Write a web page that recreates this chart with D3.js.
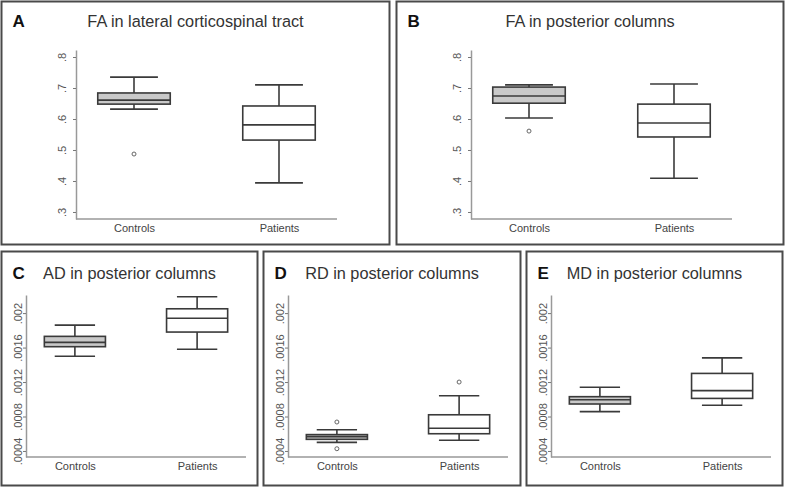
<!DOCTYPE html>
<html>
<head>
<meta charset="utf-8">
<script src="https://cdn.jsdelivr.net/npm/d3@7"></script>
<style>
  body { margin: 0; background: #fff; }
  svg { display: block; font-family: "Liberation Sans", Arial, sans-serif; }
</style>
</head>
<body>
<svg id="chart"></svg>
<script>
// categories and tick labels
var groups = ["Controls", "Patients"]
var letters = ["A", "B", "C", "D", "E"]
var titles = [
  "FA in lateral corticospinal tract",
  "FA in posterior columns",
  "AD in posterior columns",
  "RD in posterior columns",
  "MD in posterior columns"
]
var faTicks = [0.3, 0.4, 0.5, 0.6, 0.7, 0.8]
var dTicks = [0.0004, 0.0008, 0.0012, 0.0016, 0.002]
var faRange = [0.2774, 0.8226]
var dRange = [0.00033, 0.00221]

// box stats per group: [lower whisker, q1, median, q3, upper whisker]
var faCstBox = [[0.632, 0.648, 0.661, 0.684, 0.735], [0.394, 0.532, 0.581, 0.642, 0.710]]
var faCstOut = [[0.487], []]
var faPcBox = [[0.603, 0.651, 0.674, 0.703, 0.710], [0.409, 0.542, 0.587, 0.648, 0.713]]
var faPcOut = [[0.561], []]
var adPcBox = [[0.00150, 0.00161, 0.00166, 0.00173, 0.00186], [0.00158, 0.00178, 0.00194, 0.00205, 0.00219]]
var adPcOut = [[], []]
var rdPcBox = [[0.000500, 0.000535, 0.000566, 0.000590, 0.000647], [0.000524, 0.000600, 0.000663, 0.000820, 0.00104]]
var rdPcOut = [[0.000736, 0.000426], [0.00120]]
var mdPcBox = [[0.000856, 0.000945, 0.000995, 0.00103, 0.00114], [0.00093, 0.00101, 0.00110, 0.00130, 0.00148]]
var mdPcOut = [[], []]

var boxes = [faCstBox, faPcBox, adPcBox, rdPcBox, mdPcBox]
var outliers = [faCstOut, faPcOut, adPcOut, rdPcOut, mdPcOut]

// layout of the five panels (frame + plot area)
var panels = [
  { fx: 1.5, fy: 1.5, fw: 388, fh: 243, left: 76, right: 337, top: 50, bottom: 219, ty: 27, ticks: faTicks, dom: faRange, fmt: d3.format(".1f"), lab: 10 },
  { fx: 396.5, fy: 1.5, fw: 387, fh: 243, left: 471, right: 732, top: 50, bottom: 219, ty: 27, ticks: faTicks, dom: faRange, fmt: d3.format(".1f"), lab: 10 },
  { fx: 1.5, fy: 251.5, fw: 256, fh: 234, left: 26, right: 246, top: 295, bottom: 457, ty: 279, ticks: dTicks, dom: dRange, fmt: d3.format(".4~f"), lab: 4 },
  { fx: 263.5, fy: 251.5, fw: 257, fh: 234, left: 288, right: 508, top: 295, bottom: 457, ty: 279, ticks: dTicks, dom: dRange, fmt: d3.format(".4~f"), lab: 4 },
  { fx: 526.5, fy: 251.5, fw: 256, fh: 234, left: 551, right: 771, top: 295, bottom: 457, ty: 279, ticks: dTicks, dom: dRange, fmt: d3.format(".4~f"), lab: 4 }
]

var width = 787,
  height = 488

var svg = d3.select("#chart")
  .attr("width", width)
  .attr("height", height)

var fills = ["#c9c9c9", "#ffffff"]

panels.forEach(function (p, i) {
  var g = svg.append("g").attr("class", "panel")

  // frame
  g.append("rect")
    .attr("x", p.fx).attr("y", p.fy)
    .attr("width", p.fw).attr("height", p.fh)
    .style("fill", "none")
    .style("stroke", "#4a4a4a")
    .style("stroke-width", 2)

  // letter + title
  g.append("text")
    .attr("x", p.fx + 11).attr("y", p.ty)
    .style("font-weight", "bold").style("font-size", "17px")
    .style("fill", "#111")
    .text(letters[i])

  g.append("text")
    .attr("x", p.fx + p.fw / 2).attr("y", p.ty)
    .attr("text-anchor", "middle")
    .style("font-size", "16.3px")
    .style("fill", "#333")
    .text(titles[i])

  var x = d3.scalePoint()
    .domain(groups)
    .range([p.left, p.right])
    .padding(0.4)

  var y = d3.scaleLinear()
    .domain(p.dom)
    .range([p.bottom, p.top])

  // y axis
  var ya = g.append("g")
    .attr("transform", "translate(" + p.left + ",0)")
    .call(d3.axisLeft(y).tickValues(p.ticks).tickSize(3).tickSizeOuter(0)
      .tickFormat(function (d) { return p.fmt(d).replace(/^0/, "") }))
  ya.select(".domain").style("stroke", "#999").style("stroke-width", 1.5)
  ya.selectAll(".tick line").style("stroke", "#777")
  ya.selectAll(".tick text")
    .attr("transform", "rotate(-90)")
    .attr("x", 0).attr("y", -p.lab).attr("dy", 0)
    .attr("text-anchor", "middle")
    .style("font-size", "11px")
    .style("fill", "#555")

  // x axis
  var xa = g.append("g")
    .attr("transform", "translate(0," + p.bottom + ")")
    .call(d3.axisBottom(x).tickSize(0).tickSizeOuter(0).tickPadding(0))
  xa.select(".domain").attr("d", "M" + p.left + ",0H" + p.right)
    .style("stroke", "#999").style("stroke-width", 1.5)
  xa.selectAll(".tick text")
    .attr("y", 13).attr("dy", 0)
    .style("font-size", "11px")
    .style("fill", "#444")

  var step = x.step()
  var bw = step * 0.5,
    cw = step * 0.33

  var box = g.selectAll("g.box")
    .data(boxes[i].map(function (d, j) { return { s: d, k: groups[j], j: j, out: outliers[i][j] } }))
    .enter()
    .append("g")
    .attr("class", "box")
    .style("stroke", "#3a3a3a")
    .style("stroke-width", 1.6)

  // whiskers
  box.append("line")
    .attr("x1", function (d) { return x(d.k) }).attr("x2", function (d) { return x(d.k) })
    .attr("y1", function (d) { return y(d.s[0]) }).attr("y2", function (d) { return y(d.s[4]) })
  box.selectAll("line.cap")
    .data(function (d) { return [{ k: d.k, v: d.s[0] }, { k: d.k, v: d.s[4] }] })
    .enter()
    .append("line")
    .attr("class", "cap")
    .attr("x1", function (d) { return x(d.k) - cw / 2 }).attr("x2", function (d) { return x(d.k) + cw / 2 })
    .attr("y1", function (d) { return y(d.v) }).attr("y2", function (d) { return y(d.v) })

  // box
  box.append("rect")
    .attr("x", function (d) { return x(d.k) - bw / 2 })
    .attr("width", bw)
    .attr("y", function (d) { return y(d.s[3]) })
    .attr("height", function (d) { return y(d.s[1]) - y(d.s[3]) })
    .style("fill", function (d) { return fills[d.j] })

  // median
  box.append("line")
    .attr("x1", function (d) { return x(d.k) - bw / 2 }).attr("x2", function (d) { return x(d.k) + bw / 2 })
    .attr("y1", function (d) { return y(d.s[2]) }).attr("y2", function (d) { return y(d.s[2]) })

  // outliers
  box.selectAll("circle")
    .data(function (d) { return d.out.map(function (v) { return { k: d.k, v: v } }) })
    .enter()
    .append("circle")
    .attr("cx", function (d) { return x(d.k) })
    .attr("cy", function (d) { return y(d.v) })
    .attr("r", 2)
    .style("fill", "none")
    .style("stroke", "#666")
    .style("stroke-width", 1)
})
</script>
</body>
</html>
